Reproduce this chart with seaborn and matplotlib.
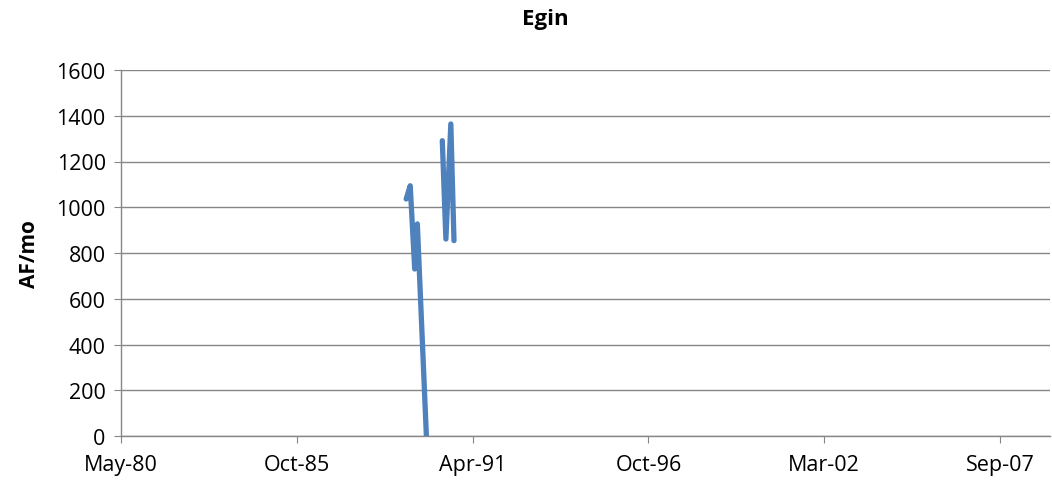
import pandas as pd
import matplotlib
matplotlib.use('Agg')
import matplotlib.pyplot as plt
import matplotlib.dates as mdates
import seaborn as sns

# 資料
dates = ['1989-03-20', '1989-05-05', '1989-06-25', '1989-07-25', '1989-11-05',
         '1990-05-05', '1990-06-15', '1990-08-10', '1990-09-15']
flow = [1036, 1094, 730, 927, 0,
        1291, 861, 1364, 854]
segment = [1, 1, 1, 1, 1, 2, 2, 2, 2]

tick_dates = ['1980-05-01', '1985-10-23', '1991-04-15', '1996-10-05', '2002-03-28', '2007-09-18']
y_ticks = [0, 200, 400, 600, 800, 1000, 1200, 1400, 1600]

df = pd.DataFrame({'date': pd.to_datetime(dates), 'flow': flow, 'seg': segment})

sns.set_style('white')
plt.rcParams['font.family'] = ['Open Sans', 'DejaVu Sans']
plt.rcParams['text.color'] = 'black'
plt.rcParams['axes.labelcolor'] = 'black'
plt.rcParams['xtick.labelcolor'] = 'black'
plt.rcParams['ytick.labelcolor'] = 'black'

fig = plt.figure(figsize=(10.52, 4.89), dpi=100)
ax = fig.add_axes([121 / 1052, 52 / 489, (1050 - 121) / 1052, (437 - 71) / 489])

sns.lineplot(data=df, x='date', y='flow', units='seg', estimator=None,
             color='#4F81BD', linewidth=3.8, ax=ax)

ax.set_xlim(pd.Timestamp('1980-05-01'), pd.Timestamp('2009-04-10'))
ax.set_ylim(0, 1600)
ax.set_yticks(y_ticks)
ax.set_xticks(pd.to_datetime(tick_dates))
ax.xaxis.set_major_formatter(mdates.DateFormatter('%b-%y'))

ax.grid(axis='y', color='#868686', linewidth=1)
ax.grid(axis='x', visible=False)
for s in ['top', 'right']:
    ax.spines[s].set_visible(False)
for s in ['left', 'bottom']:
    ax.spines[s].set_color('#868686')
    ax.spines[s].set_linewidth(1)

ax.tick_params(axis='both', which='major', direction='out', length=5,
               color='#868686', labelsize=15.5, bottom=True, left=True)
ax.tick_params(axis='x', pad=8)
ax.tick_params(axis='y', pad=6)

ax.set_xlabel('')
ax.set_ylabel('AF/mo', fontsize=15, fontweight='bold', labelpad=12)
fig.text(545 / 1052, 1 - 20 / 489, 'Egin', ha='center', va='center',
         fontsize=16, fontweight='bold')

fig.savefig('out.png', dpi=100)
